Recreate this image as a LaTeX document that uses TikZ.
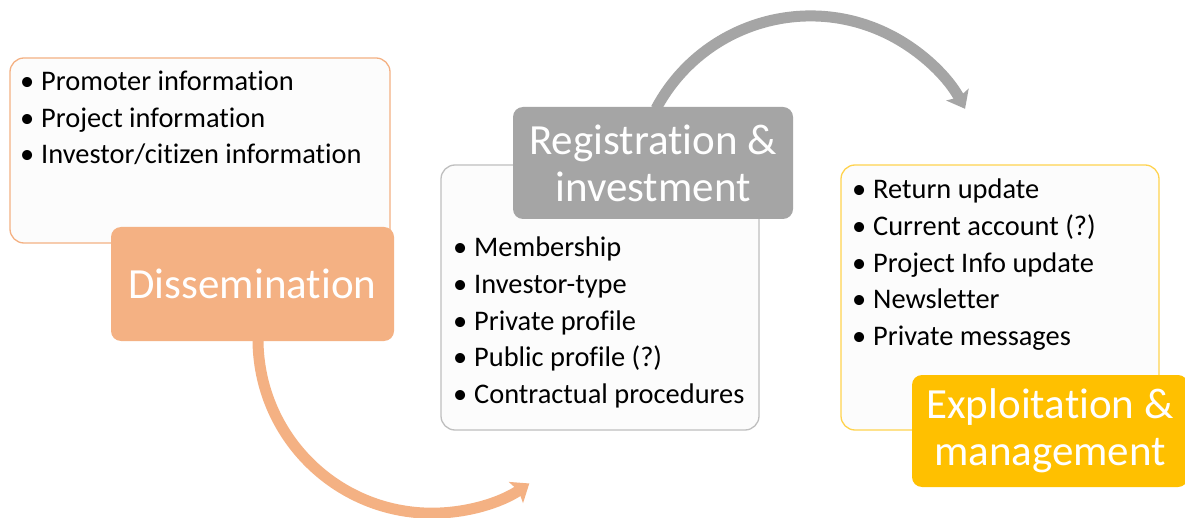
\documentclass[tikz,border=0pt]{standalone}
\usepackage{fontspec}
\setmainfont{Carlito}[Ligatures=NoCommon]
\usetikzlibrary{arrows.meta}
\pgfdeclarelayer{bg}
\pgfsetlayers{bg,main}
\definecolor{dorange}{HTML}{F4B183}
\definecolor{dgray}{HTML}{A5A5A5}
\definecolor{lgray}{HTML}{BFBFBF}
\definecolor{dyellow}{HTML}{FFC000}
\definecolor{lyellow}{HTML}{FFD34F}
\definecolor{boxfill}{HTML}{FCFCFC}
\newcommand\bitem{\makebox[21pt][l]{\textbullet}}
\begin{document}
\begin{tikzpicture}[x=1pt,y=1pt,
  infobox/.style={draw, line width=1.3pt, fill=boxfill, rounded corners=14pt, inner sep=0pt},
  labelbox/.style={rounded corners=10pt, text=white, font=\fontsize{43}{47}\selectfont, align=center, inner sep=0pt},
  listtext/.style={font=\fontsize{28.4}{36.6}\selectfont, align=left, anchor=north west, inner sep=0pt, text=black},
  flow/.style={line width=11pt, -{Stealth[length=16pt,width=25pt,inset=3pt]}}]
\begin{pgfonlayer}{bg}
\fill[white] (0,0) rectangle (1185,517);
\end{pgfonlayer}
\useasboundingbox (0,0) rectangle (1185,517);
% info boxes
\node[infobox, draw=dorange, minimum width=380pt, minimum height=185pt] (dinfo) at (200,366.5) {};
\node[infobox, draw=lgray, minimum width=318pt, minimum height=265pt] (rinfo) at (600,219.5) {};
\node[infobox, draw=lyellow, minimum width=318pt, minimum height=265pt] (einfo) at (1000,219.5) {};
% lists
\node[listtext] (dlist) at (20,446) {\bitem Promoter information\\\bitem Project information\\\bitem Investor/citizen information};
\node[listtext] (rlist) at (453,280) {\bitem Membership\\\bitem Investor-type\\\bitem Private profile\\\bitem Public profile (?)\\\bitem Contractual procedures};
\node[listtext] (elist) at (852,338) {\bitem Return update\\\bitem Current account (?)\\\bitem Project Info update\\\bitem Newsletter\\\bitem Private messages};
% label boxes
\node[labelbox, fill=dorange, minimum width=283pt, minimum height=114pt] (dlab) at (252.5,233) {Dissemination};
\node[labelbox, fill=dgray, minimum width=280pt, minimum height=112pt] (rlab) at (653,354) {Registration \&\\investment};
\node[labelbox, fill=dyellow, minimum width=276pt, minimum height=112pt] (elab) at (1050,86) {Exploitation \&\\management};
% arcs behind label boxes
\begin{pgfonlayer}{bg}
\draw[flow, draw=dorange] ([xshift=5.5pt,yshift=2pt]dlab.south) arc[start angle=180, end angle=304, radius=174pt];
\draw[flow, draw=dgray] ([xshift=3pt,yshift=-2pt]rlab.north) arc[start angle=152, end angle=28, radius=175pt];
\end{pgfonlayer}
\end{tikzpicture}
\end{document}
